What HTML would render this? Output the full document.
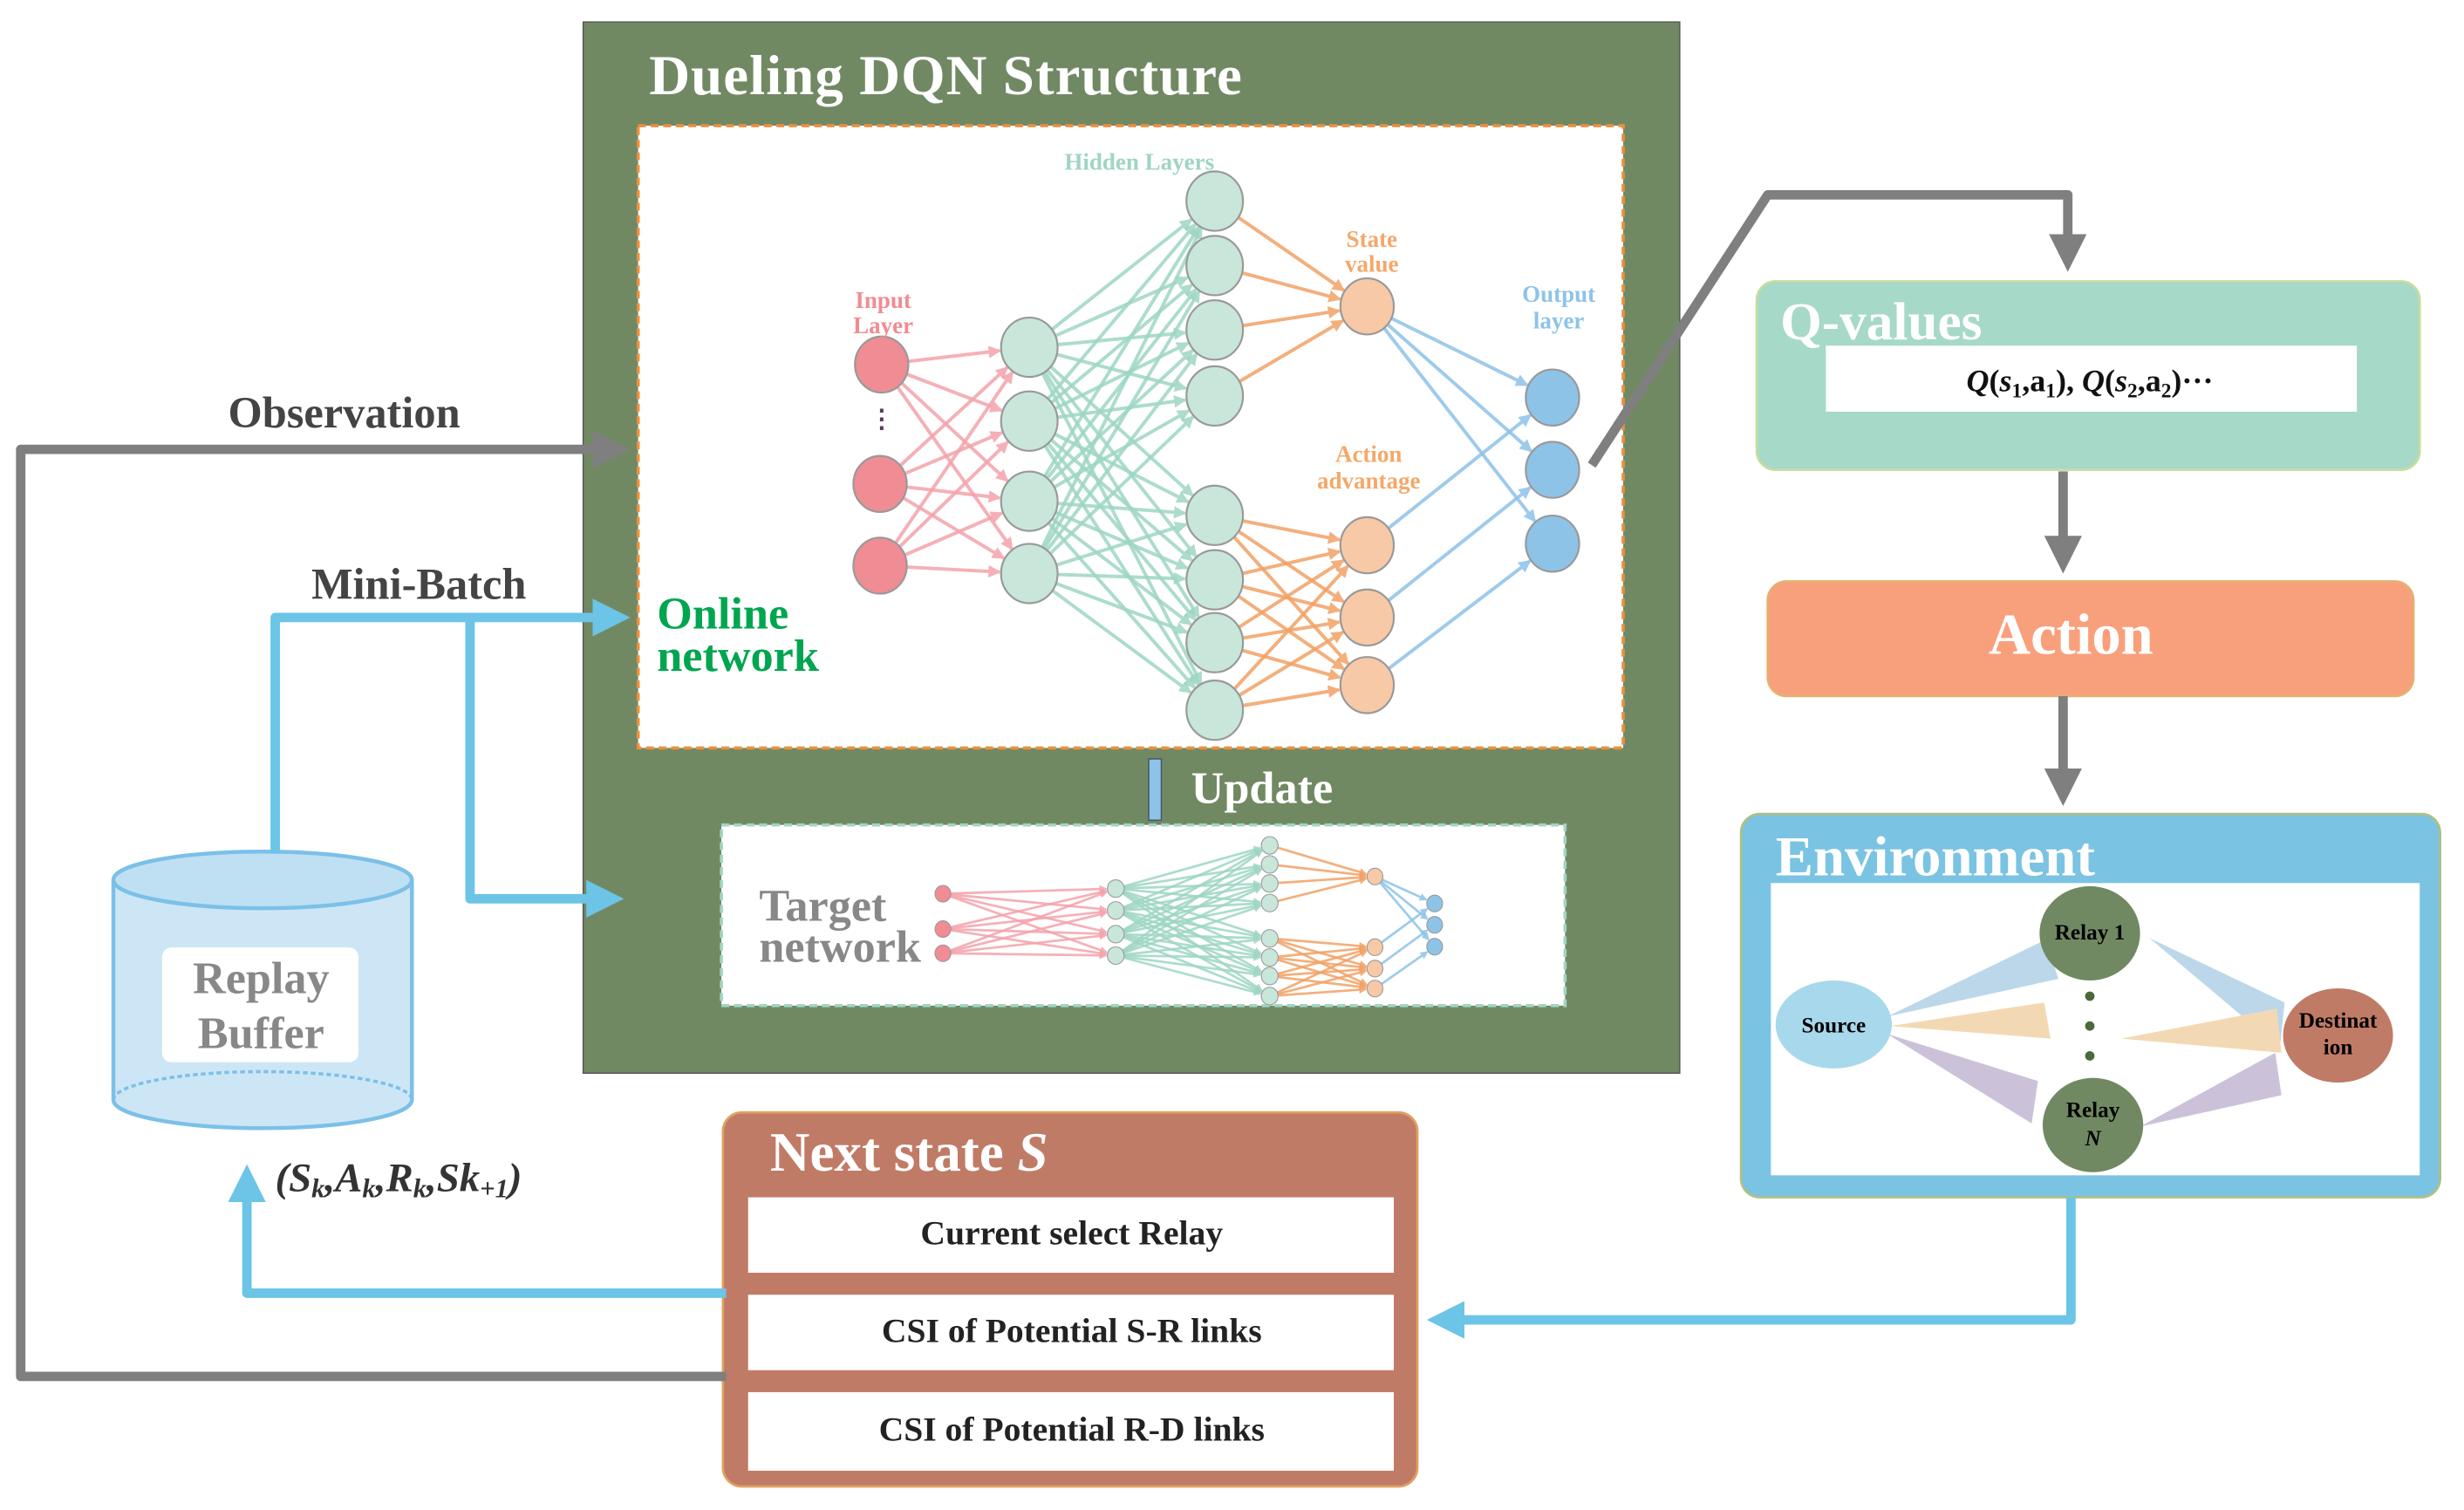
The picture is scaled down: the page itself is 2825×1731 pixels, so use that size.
<!DOCTYPE html>
<html><head><meta charset="utf-8"><style>html,body{margin:0;padding:0;background:#fff}svg{display:block}text{font-family:"Liberation Serif",serif;font-weight:bold}</style></head>
<body>
<svg id="s" width="2825" height="1731" viewBox="0 0 1568 961" xmlns="http://www.w3.org/2000/svg">
<defs>
<marker id="ag" markerWidth="4.5" markerHeight="4.5" refX="2.5" refY="2" orient="auto" markerUnits="strokeWidth"><path d="M0,0 L4,2 L0,4 z" fill="#7f7f7f"/></marker>
<marker id="ab" markerWidth="4.5" markerHeight="4.5" refX="2.5" refY="2" orient="auto" markerUnits="strokeWidth"><path d="M0,0 L4,2 L0,4 z" fill="#6cc4e6"/></marker>
<marker id="mp" markerWidth="8" markerHeight="8" refX="7" refY="4" orient="auto" markerUnits="userSpaceOnUse"><path d="M0,0 L8,4 L0,8 z" fill="#f4a3ab"/></marker>
<marker id="mg" markerWidth="8" markerHeight="8" refX="7" refY="4" orient="auto" markerUnits="userSpaceOnUse"><path d="M0,0 L8,4 L0,8 z" fill="#9ed6c4"/></marker>
<marker id="mo" markerWidth="8" markerHeight="8" refX="7" refY="4" orient="auto" markerUnits="userSpaceOnUse"><path d="M0,0 L8,4 L0,8 z" fill="#f2a266"/></marker>
<marker id="mb" markerWidth="8" markerHeight="8" refX="7" refY="4" orient="auto" markerUnits="userSpaceOnUse"><path d="M0,0 L8,4 L0,8 z" fill="#8ec3e8"/></marker>
<marker id="sp" markerWidth="5" markerHeight="5" refX="4" refY="2.5" orient="auto" markerUnits="userSpaceOnUse"><path d="M0,0 L5,2.5 L0,5 z" fill="#f4a3ab"/></marker>
<marker id="sg" markerWidth="5" markerHeight="5" refX="4" refY="2.5" orient="auto" markerUnits="userSpaceOnUse"><path d="M0,0 L5,2.5 L0,5 z" fill="#9ed6c4"/></marker>
<marker id="so" markerWidth="5" markerHeight="5" refX="4" refY="2.5" orient="auto" markerUnits="userSpaceOnUse"><path d="M0,0 L5,2.5 L0,5 z" fill="#f2a266"/></marker>
<marker id="sb" markerWidth="5" markerHeight="5" refX="4" refY="2.5" orient="auto" markerUnits="userSpaceOnUse"><path d="M0,0 L5,2.5 L0,5 z" fill="#8ec3e8"/></marker>
</defs>
<rect x="371" y="14" width="698" height="669" fill="#718963" stroke="#555" stroke-width="0.8"/>
<text x="413" y="60" font-size="36" fill="#fff" letter-spacing="0.6">Dueling DQN Structure</text>
<rect x="406" y="80" width="627" height="396" fill="#fff" stroke="#ee8f3c" stroke-width="2" stroke-dasharray="5,3"/>
<g id="net1"></g>
<text x="725" y="108" font-size="15" fill="#9fd5c3" text-anchor="middle">Hidden Layers</text>
<text x="562" y="196" font-size="15" fill="#f08c94" text-anchor="middle">Input</text>
<text x="562" y="212" font-size="15" fill="#f08c94" text-anchor="middle">Layer</text>
<text x="873" y="157" font-size="15" fill="#f4a86a" text-anchor="middle">State</text>
<text x="873" y="173" font-size="15" fill="#f4a86a" text-anchor="middle">value</text>
<text x="992" y="192" font-size="15" fill="#8ec3e8" text-anchor="middle">Output</text>
<text x="992" y="209" font-size="15" fill="#8ec3e8" text-anchor="middle">layer</text>
<text x="871" y="294" font-size="15" fill="#f4a86a" text-anchor="middle">Action</text>
<text x="871" y="311" font-size="15" fill="#f4a86a" text-anchor="middle">advantage</text>
<text x="418" y="400" font-size="29" fill="#00a64f">Online</text>
<text x="418" y="427" font-size="29" fill="#00a64f">network</text>
<rect x="731" y="483" width="8" height="39" fill="#8ec3e8" stroke="#456" stroke-width="0.8"/>
<text x="758" y="511" font-size="29" fill="#fff">Update</text>
<rect x="459" y="525" width="537" height="115" fill="#fff" stroke="#9fd5c3" stroke-width="2" stroke-dasharray="5,3"/>
<text x="483" y="586" font-size="29" fill="#888">Target</text>
<text x="483" y="612" font-size="29" fill="#888">network</text>
<g id="net2"></g>
<rect x="1118" y="179" width="422" height="120" rx="12" fill="#a6d9c8" stroke="#c7dca0" stroke-width="1.5"/>
<text x="1133" y="216" font-size="34" fill="#fff">Q-values</text>
<rect x="1162" y="220" width="338" height="42" fill="#fff"/>
<text x="1330" y="249" font-size="20" fill="#111" text-anchor="middle"><tspan font-style="italic">Q</tspan>(<tspan font-style="italic">s</tspan><tspan font-size="13" dy="4">1</tspan><tspan dy="-4">,a</tspan><tspan font-size="13" dy="4">1</tspan><tspan dy="-4">), </tspan><tspan font-style="italic">Q</tspan>(<tspan font-style="italic">s</tspan><tspan font-size="13" dy="4">2</tspan><tspan dy="-4">,a</tspan><tspan font-size="13" dy="4">2</tspan><tspan dy="-4">)···</tspan></text>
<rect x="1125" y="370" width="411" height="73" rx="12" fill="#f8a07c" stroke="#e6b070" stroke-width="1.5"/>
<text x="1318" y="416" font-size="37" fill="#fff" text-anchor="middle">Action</text>
<rect x="1108" y="518" width="445" height="244" rx="12" fill="#7ac3e3" stroke="#b0c080" stroke-width="1.5"/>
<text x="1130" y="557" font-size="36" fill="#fff">Environment</text>
<rect x="1127" y="562" width="413" height="186" fill="#fff"/>
<polygon points="1201,647 1302,598 1310,623" fill="#bcd7ea"/>
<polygon points="1203,653 1301,638 1305,661" fill="#f3d9b3"/>
<polygon points="1201,658 1297,688 1293,715" fill="#cbc2da"/>
<polygon points="1368,597 1454,638 1451,667" fill="#bcd7ea"/>
<polygon points="1350,661 1449,642 1452,670" fill="#f3d9b3"/>
<polygon points="1362,717 1448,670 1452,697" fill="#cbc2da"/>
<ellipse cx="1167" cy="652" rx="37" ry="28" fill="#a8d8ec"/>
<text x="1167" y="657" font-size="14" fill="#000" text-anchor="middle">Source</text>
<ellipse cx="1330" cy="594" rx="32" ry="30" fill="#718963"/>
<text x="1330" y="598" font-size="14" fill="#000" text-anchor="middle">Relay 1</text>
<ellipse cx="1332" cy="716" rx="32" ry="30" fill="#718963"/>
<text x="1332" y="711" font-size="14" fill="#000" text-anchor="middle">Relay</text>
<text x="1332" y="729" font-size="14" fill="#000" text-anchor="middle" font-style="italic">N</text>
<ellipse cx="1488" cy="659" rx="35" ry="30" fill="#c07b66"/>
<text x="1488" y="654" font-size="14" fill="#000" text-anchor="middle">Destinat</text>
<text x="1488" y="671" font-size="14" fill="#000" text-anchor="middle">ion</text>
<circle cx="1330" cy="634" r="3" fill="#4a6a3a"/><circle cx="1330" cy="653" r="3" fill="#4a6a3a"/><circle cx="1330" cy="672" r="3" fill="#4a6a3a"/>
<rect x="460" y="708" width="442" height="238" rx="12" fill="#c07b66" stroke="#e0a060" stroke-width="1.5"/>
<text x="490" y="745" font-size="35" fill="#fff">Next state <tspan font-style="italic">S</tspan></text>
<rect x="476" y="762" width="411" height="48" fill="#fff"/>
<rect x="476" y="824" width="411" height="48" fill="#fff"/>
<rect x="476" y="886" width="411" height="50" fill="#fff"/>
<text x="682" y="792" font-size="22" fill="#222" text-anchor="middle">Current select Relay</text>
<text x="682" y="854" font-size="22" fill="#222" text-anchor="middle">CSI of  Potential S-R links</text>
<text x="682" y="917" font-size="22" fill="#222" text-anchor="middle">CSI of  Potential R-D links</text>
<path d="M72,560 L72,700 A95,18 0 0 0 262,700 L262,560" fill="#cde6f6" stroke="#7cc0e8" stroke-width="2.5"/>
<ellipse cx="167" cy="560" rx="95" ry="18" fill="#bfe0f3" stroke="#7cc0e8" stroke-width="2.5"/>
<path d="M72,700 A95,18 0 0 1 262,700" fill="none" stroke="#7cc0e8" stroke-width="2" stroke-dasharray="3,2"/>
<rect x="103" y="603" width="125" height="73" rx="6" fill="#fff"/>
<text x="166" y="632" font-size="29" fill="#888" text-anchor="middle">Replay</text>
<text x="166" y="667" font-size="29" fill="#888" text-anchor="middle">Buffer</text>
<text x="175" y="758" font-size="26" fill="#333" font-style="italic">(S<tspan font-size="17" dy="4">k</tspan><tspan dy="-4">,A</tspan><tspan font-size="17" dy="4">k</tspan><tspan dy="-4">,R</tspan><tspan font-size="17" dy="4">k</tspan><tspan dy="-4">,Sk</tspan><tspan font-size="17" dy="4">+1</tspan><tspan dy="-4">)</tspan></text>
<g fill="none" stroke-linejoin="round">
<polyline points="1013,296 1125,124 1316,124 1316,164" stroke="#7f7f7f" stroke-width="6" marker-end="url(#ag)"/>
<polyline points="1313,300 1313,356" stroke="#7f7f7f" stroke-width="6" marker-end="url(#ag)"/>
<polyline points="1313,443 1313,504" stroke="#7f7f7f" stroke-width="6" marker-end="url(#ag)"/>
<polyline points="462,876 13,876 13,286 392,286" stroke="#7f7f7f" stroke-width="6" marker-end="url(#ag)"/>
<polyline points="175,543 175,393 392,393" stroke="#6cc4e6" stroke-width="6" marker-end="url(#ab)"/>
<polyline points="299,393 299,572 388,572" stroke="#6cc4e6" stroke-width="6" marker-end="url(#ab)"/>
<polyline points="1318,762 1318,840 917,840" stroke="#6cc4e6" stroke-width="6" marker-end="url(#ab)"/>
<polyline points="462,823 157,823 157,750" stroke="#6cc4e6" stroke-width="6" marker-end="url(#ab)"/>
</g>
<text x="145" y="272" font-size="28" fill="#444">Observation</text>
<text x="198" y="381" font-size="28" fill="#444">Mini-Batch</text>
<text x="561" y="272" font-size="16" fill="#5a3a5a" text-anchor="middle">⋮</text>
</svg>
<script>
function build(g,fx,sy,oy,sw,big){
 const ns="http://www.w3.org/2000/svg";const G=document.getElementById(g);
 const P=big?"m":"s";
 function ln(a,b,col,m){const l=document.createElementNS(ns,"line");
  const ax=fx(a[0]),ay=oy+a[1]*sy,bx=fx(b[0]),by=oy+b[1]*sy;
  const dx=bx-ax,dy=by-ay,d=Math.hypot(dx,dy),ra=a[2]*sy,rb=b[2]*sy+1;
  l.setAttribute("x1",ax+dx/d*ra);l.setAttribute("y1",ay+dy/d*ra);
  l.setAttribute("x2",bx-dx/d*rb);l.setAttribute("y2",by-dy/d*rb);
  l.setAttribute("stroke",col);l.setAttribute("stroke-width",sw);l.setAttribute("opacity","0.85");l.setAttribute("marker-end","url(#"+P+m+")");G.appendChild(l);}
 const I=[[561,232,17],[560,308,17],[560,360,17]];
 const H1=[[655,221,18],[655,268,18],[655,319,18],[655,365,18]];
 const HT=[[773,128,18],[773,169,18],[773,210,18],[773,252,18]];
 const HB=[[773,328,18],[773,369,18],[773,409,18],[773,452,18]];
 const SV=[[870,195,17]];const AA=[[870,347,17],[870,393,17],[870,436,17]];
 const O=[[988,253,17],[988,299,17],[988,346,17]];
 I.forEach(a=>H1.forEach(b=>ln(a,b,"#f4a3ab","p")));
 H1.forEach(a=>HT.concat(HB).forEach(b=>ln(a,b,"#9ed6c4","g")));
 HT.forEach(a=>SV.forEach(b=>ln(a,b,"#f2a266","o")));
 HB.forEach(a=>AA.forEach(b=>ln(a,b,"#f2a266","o")));
 SV.forEach(a=>O.forEach(b=>ln(a,b,"#8ec3e8","b")));
 AA.forEach((a,i)=>ln(a,O[i],"#8ec3e8","b"));
 function c(arr,f){arr.forEach(p=>{const e=document.createElementNS(ns,"ellipse");e.setAttribute("cx",fx(p[0]));e.setAttribute("cy",oy+p[1]*sy);e.setAttribute("rx",p[2]*sy);e.setAttribute("ry",p[2]*sy*1.05);e.setAttribute("fill",f);e.setAttribute("stroke","#999");e.setAttribute("stroke-width",big?1.2:0.6);G.appendChild(e);});}
 c(I,"#f08c94");c(H1,"#c8e6d9");c(HT,"#c8e6d9");c(HB,"#c8e6d9");c(SV,"#f8c9a6");c(AA,"#f8c9a6");c(O,"#8ec3e8");
}
build("net1",x=>x,1,0,2.2,true);
const cm={560:600,561:600,655:710,773:808,870:875,988:913};
build("net2",x=>cm[x],0.296,538-128*0.296,1.5,false);
</script>
</body></html>
